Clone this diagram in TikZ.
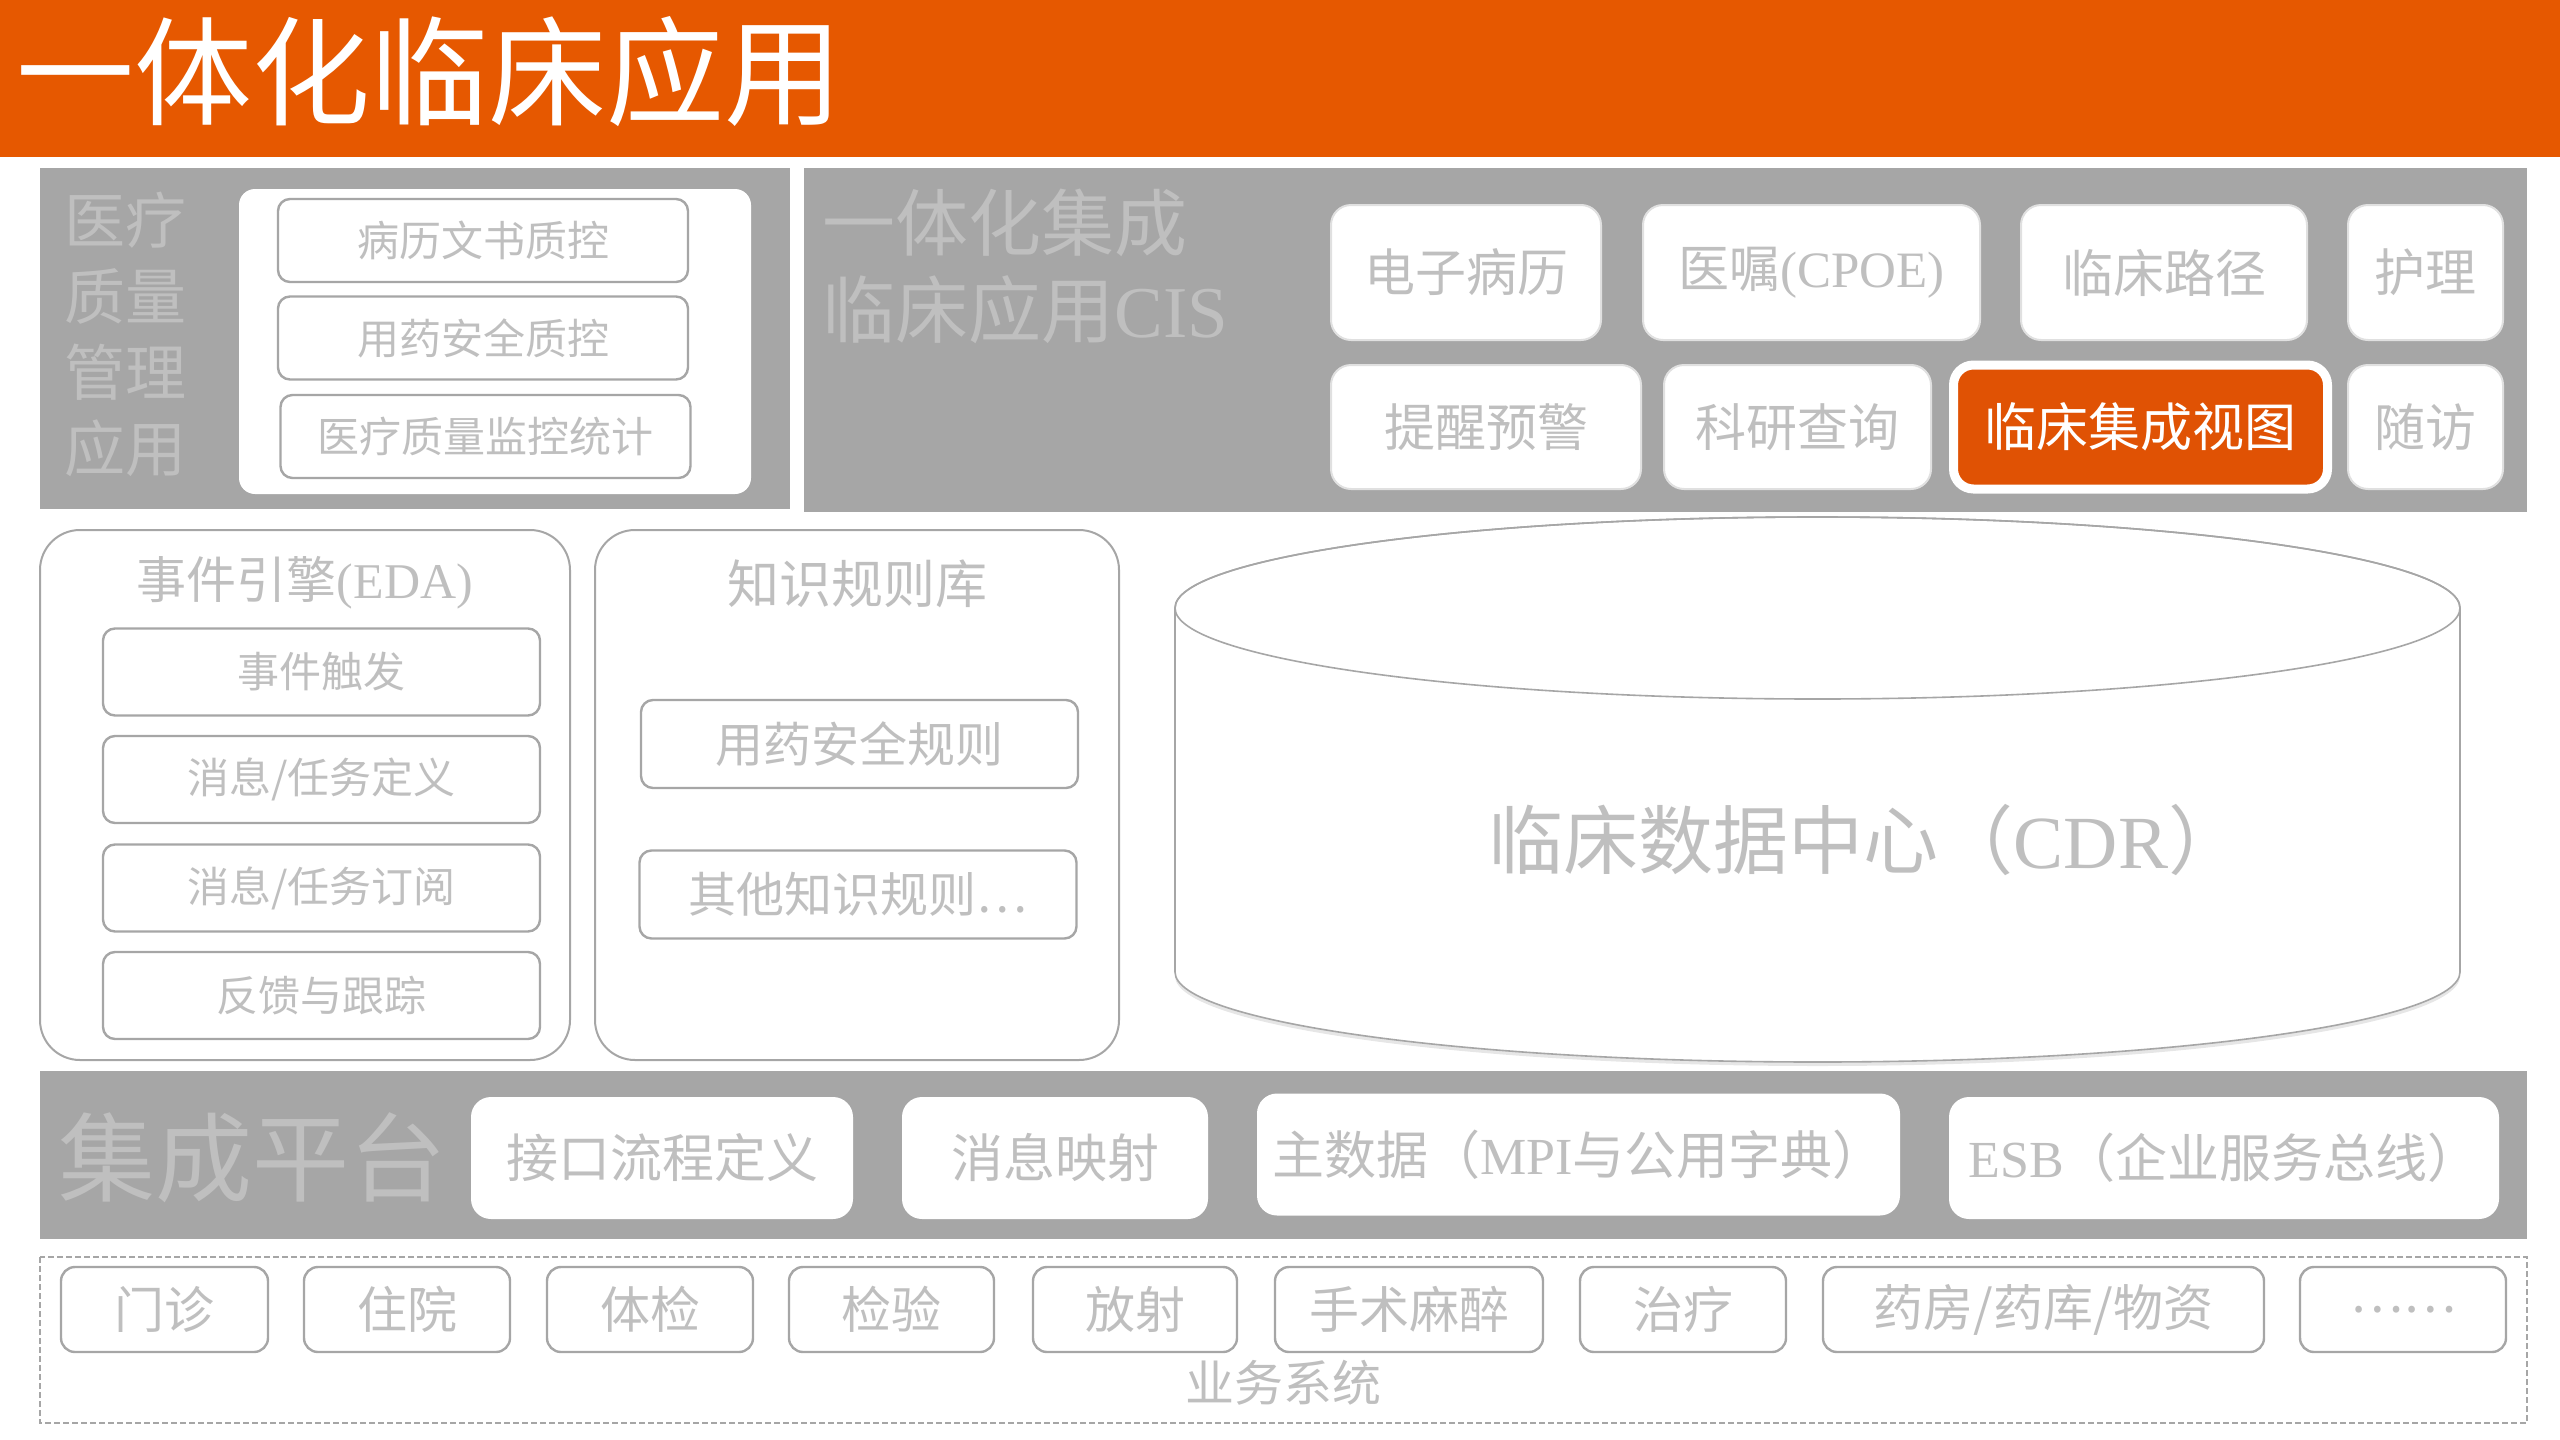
\documentclass[tikz,border=0pt]{standalone}
\usepackage{fontspec}
\setmainfont{Noto Sans CJK SC}
\newfontfamily\latin{Liberation Serif}
\usetikzlibrary{shadows}

\definecolor{hdrorange}{HTML}{E65800}
\definecolor{vieworange}{HTML}{E05204}
\definecolor{panelgray}{HTML}{A6A6A6}
\definecolor{textgray}{HTML}{BFBFBF}
\definecolor{linegray}{HTML}{A6A6A6}
\newcommand{\fsz}[1]{\fontsize{#1pt}{#1pt}\selectfont}

\begin{document}
\begin{tikzpicture}[x=0.5pt, y=-0.5pt,
    every node/.style={inner sep=0pt, text=textgray},
    cisbox/.style={draw=black!12, line width=1pt, fill=white, rounded corners=10pt, font=\fsz{25.5}},
    qcbox/.style={draw=linegray, line width=1.2pt, fill=white, rounded corners=6pt,
      minimum width=205pt, minimum height=41.5pt, font=\fsz{21}},
    edabox/.style={draw=linegray, line width=1.2pt, fill=white, rounded corners=6pt,
      minimum width=218.5pt, minimum height=43.5pt, font=\fsz{21}},
    kbbox/.style={draw=linegray, line width=1.2pt, fill=white, rounded corners=6pt,
      minimum width=218.5pt, minimum height=44pt, font=\fsz{24}},
    platbox/.style={fill=white, rounded corners=10pt, minimum height=61pt, font=\fsz{26}},
    sysbox/.style={draw=linegray, line width=1.2pt, fill=white, rounded corners=7pt,
      minimum height=42.5pt, font=\fsz{25}}]
    \useasboundingbox (0,0) rectangle (2560,1440);
    % header
    \fill[hdrorange] (0,0) rectangle (2560,157);
    \node[anchor=west, text=white, font=\fsz{59}] (title) at (16,72) {一体化临床应用};
    % quality management
    \fill[panelgray] (40,168) rectangle (790,509);
    \node[align=center, font=\fontsize{30.5pt}{38pt}\selectfont] (qmtitle) at (125,334) {医疗\\质量\\管理\\应用};
    \fill[white, rounded corners=8pt] (239,189) rectangle (751,494);
    \node[qcbox] (qc1) at (483,240.5) {病历文书质控};
    \node[qcbox] (qc2) at (483,338) {用药安全质控};
    \node[qcbox] (qc3) at (485.5,436.5) {医疗质量监控统计};
    % CIS
    \fill[panelgray] (804,168) rectangle (2527,512);
    \node[anchor=west, align=left, font=\fontsize{36.5pt}{43.5pt}\selectfont] (cistitle) at (822,266) {一体化集成\\临床应用{\latin CIS}};
    \node[cisbox, minimum width=135pt, minimum height=67.5pt] (emr) at (1466,272.5) {电子病历};
    \node[cisbox, minimum width=168.5pt, minimum height=67.5pt] (cpoe) at (1811.5,272.5) {医嘱{\latin(CPOE)}};
    \node[cisbox, minimum width=143pt, minimum height=67.5pt] (path) at (2164,272.5) {临床路径};
    \node[cisbox, minimum width=77.5pt, minimum height=67.5pt] (nurse) at (2425.5,272.5) {护理};
    \node[cisbox, minimum width=155pt, minimum height=62pt] (alert) at (1486,427) {提醒预警};
    \node[cisbox, minimum width=133.5pt, minimum height=62pt] (query) at (1797.5,427) {科研查询};
    \node[cisbox, draw=white, line width=4.5pt, fill=vieworange, text=white, font=\fsz{26},
      minimum width=187pt, minimum height=62pt, drop shadow={opacity=0.3, shadow xshift=0pt, shadow yshift=-2pt}] (view) at (2140.5,427) {临床集成视图};
    \node[cisbox, minimum width=77.5pt, minimum height=62pt] (visit) at (2425.5,427) {随访};
    % event engine
    \draw[linegray, line width=1pt, rounded corners=20pt] (40,530) rectangle (570,1060);
    \node[font=\fsz{25}] (edatitle) at (305,583) {事件引擎{\latin(EDA)}};
    \node[edabox] (eda1) at (321.5,672) {事件触发};
    \node[edabox] (eda2) at (321.5,779.5) {消息/任务定义};
    \node[edabox] (eda3) at (321.5,888) {消息/任务订阅};
    \node[edabox] (eda4) at (321.5,995.5) {反馈与跟踪};
    % knowledge base
    \draw[linegray, line width=1pt, rounded corners=20pt] (595,530) rectangle (1119,1060);
    \node[font=\fsz{26}] (kbtitle) at (857,584) {知识规则库};
    \node[kbbox] (kb1) at (859.5,744) {用药安全规则};
    \node[kbbox] (kb2) at (858,894.5) {其他知识规则⋯};
    % CDR cylinder
    \draw[linegray, line width=0.8pt, fill=white, drop shadow={opacity=0.2, shadow xshift=0pt, shadow yshift=-2pt}]
      (1175,608) -- (1175,972) arc[start angle=180, end angle=360, x radius=321.25pt, y radius=45pt]
      -- (2460,608) arc[start angle=0, end angle=180, x radius=321.25pt, y radius=45.5pt] -- cycle;
    \draw[linegray, line width=0.8pt] (1817.5,608) ellipse[x radius=321.25pt, y radius=45.5pt];
    \node[font=\fsz{37.5}] (cdr) at (1866,840) {临床数据中心（{\latin CDR}）};
    % integration platform
    \fill[panelgray] (40,1071) rectangle (2527,1239);
    \node[anchor=west, font=\fsz{48.5}] (plattitle) at (58,1158) {集成平台};
    \node[platbox, minimum width=191pt] (iface) at (662,1158) {接口流程定义};
    \node[platbox, minimum width=153pt] (msgmap) at (1055,1158) {消息映射};
    \node[platbox, minimum width=321.5pt] (mdm) at (1578.5,1154.5) {主数据（{\latin MPI}与公用字典）};
    \node[platbox, minimum width=275pt] (esb) at (2224,1158) {{\latin ESB}（企业服务总线）};
    % business systems
    \draw[linegray, line width=0.8pt, dash pattern=on 3pt off 1.5pt] (40,1257) rectangle (2527,1423);
    \node[sysbox, minimum width=103.5pt] (opd) at (164.5,1309.5) {门诊};
    \node[sysbox, minimum width=103pt] (ipd) at (407,1309.5) {住院};
    \node[sysbox, minimum width=103pt] (exam) at (650,1309.5) {体检};
    \node[sysbox, minimum width=102.5pt] (lab) at (891.5,1309.5) {检验};
    \node[sysbox, minimum width=102pt] (ris) at (1135,1309.5) {放射};
    \node[sysbox, minimum width=134pt] (surg) at (1409,1309.5) {手术麻醉};
    \node[sysbox, minimum width=103pt] (treat) at (1683,1309.5) {治疗};
    \node[sysbox, minimum width=220.5pt] (pharm) at (2043.5,1309.5) {药房/药库/物资};
    \node[sysbox, minimum width=103pt] (more) at (2403,1309.5) {……};
    \node[font=\fsz{24.5}] (bizlabel) at (1283,1383) {业务系统};
\end{tikzpicture}
\end{document}
